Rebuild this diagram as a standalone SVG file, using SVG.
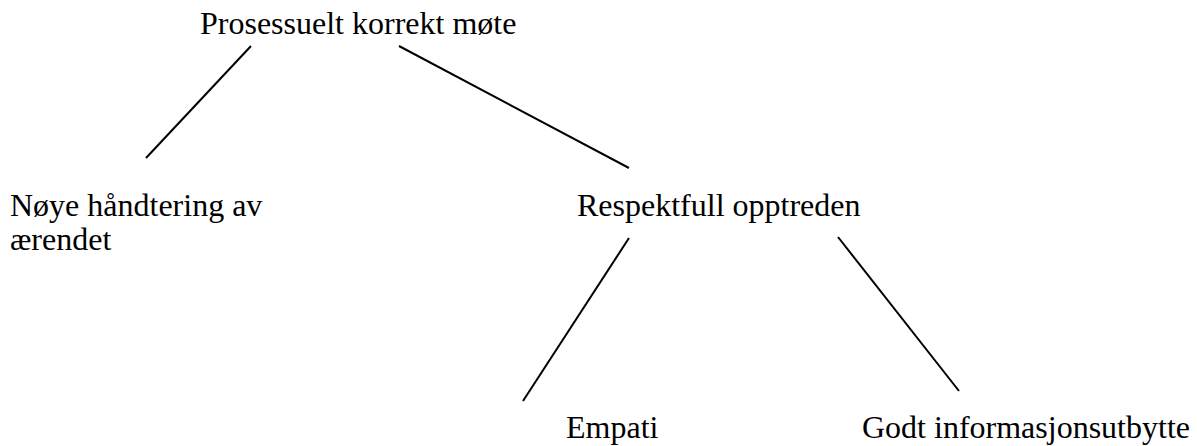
<svg xmlns="http://www.w3.org/2000/svg" width="1197" height="446" viewBox="0 0 1197 446">
<style>
text{font-family:"Liberation Serif","Times New Roman",serif;font-size:32px;fill:#000}
.c line{stroke:#000;stroke-width:2;fill:none}
</style>
<rect width="1197" height="446" fill="#fff"/>
<g class="c" id="connectors">
<line x1="251" y1="46" x2="146" y2="158"/>
<line x1="399" y1="46" x2="629" y2="168"/>
<line x1="629" y1="238" x2="523" y2="401"/>
<line x1="838" y1="237" x2="959" y2="391"/>
</g>
<g id="root"><text x="200" y="34">Prosessuelt korrekt møte</text></g>
<g id="noye"><text x="10" y="216">Nøye håndtering av</text><text x="10" y="250">ærendet</text></g>
<g id="respekt"><text x="577" y="216">Respektfull opptreden</text></g>
<g id="empati"><text x="566" y="438">Empati</text></g>
<g id="godt"><text x="862" y="438">Godt informasjonsutbytte</text></g>
</svg>
